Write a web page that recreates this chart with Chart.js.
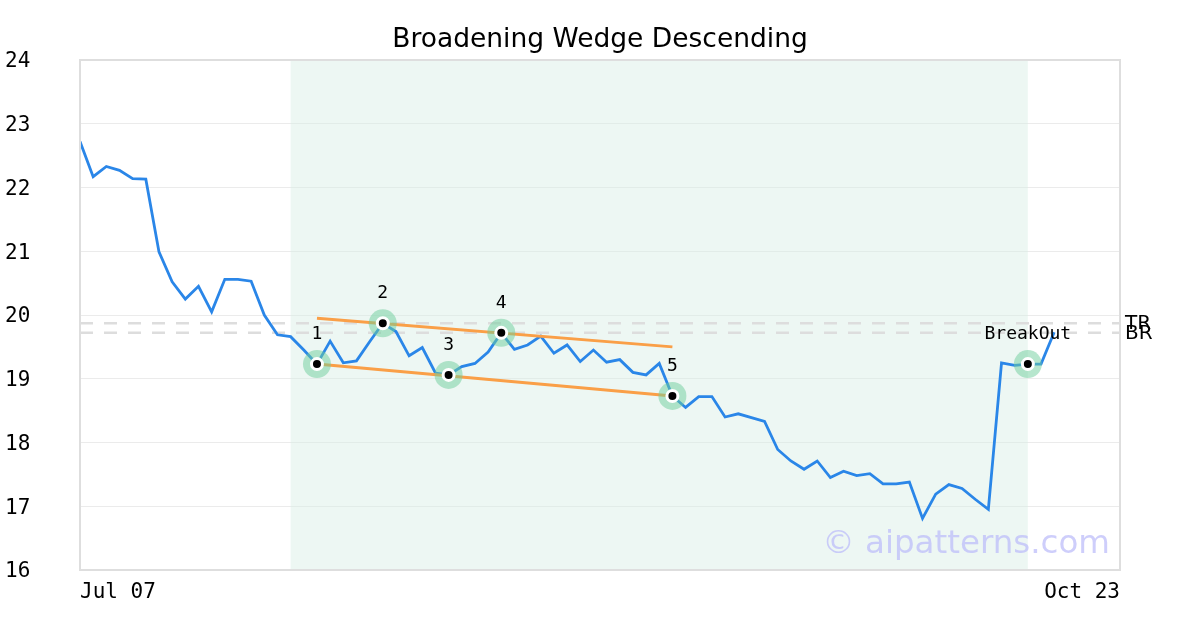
<!DOCTYPE html>
<html>
<head>
<meta charset="utf-8">
<script src="https://cdn.jsdelivr.net/npm/chart.js@4"></script>
<style>
  html, body { margin: 0; padding: 0; background: #fff; }
  #wrap { width: 1200px; height: 630px; }
</style>
</head>
<body>
<div id="wrap"><canvas id="c" width="1200" height="630"></canvas></div>
<script>
// Data
const tickLabels = ['Jul 07', 'Oct 23'];
const lastSlot = 79; // x axis runs over 80 trading-day slots
const chartTitle = 'Broadening Wedge Descending';

const closes = [
  22.72, 22.17, 22.33, 22.27, 22.14, 22.13, 20.99, 20.52, 20.25, 20.45,
  20.05, 20.56, 20.56, 20.53, 20.00, 19.69, 19.66, 19.45, 19.23, 19.59,
  19.25, 19.28, 19.58, 19.87, 19.74, 19.36, 19.49, 19.09, 19.06, 19.19,
  19.24, 19.42, 19.72, 19.46, 19.53, 19.67, 19.40, 19.53, 19.27, 19.45,
  19.26, 19.30, 19.10, 19.06, 19.24, 18.73, 18.55, 18.72, 18.72, 18.40,
  18.45, 18.39, 18.33, 17.89, 17.71, 17.58, 17.71, 17.45, 17.55, 17.48,
  17.51, 17.35, 17.35, 17.38, 16.81, 17.19, 17.34, 17.28, 17.11, 16.95,
  19.25, 19.21, 19.23, 19.23, 19.73
];

const pivotIdx = [18, 23, 28, 32, 45];
const pivotNames = ['1', '2', '3', '4', '5'];
const breakoutIdx = 72;
const breakoutName = 'BreakOut';

const upperLine = [[18, 19.95], [45, 19.50]];
const lowerLine = [[18, 19.23], [45, 18.73]];

const levelNames = ['TR', 'BR'];
const levelValues = [19.87, 19.72];

const zoneRange = [16, 72];

// Colors
const colors = {
  price: '#2a86e8',
  trend: '#fa9f47',
  halo: 'rgba(110, 205, 155, 0.5)',
  level: '#dddddd',
  zone: 'rgba(215, 238, 228, 0.45)',
  grid: '#ebebeb',
  frame: '#dedede',
  mark: 'rgba(190, 190, 250, 0.75)',
};

const mono = "'DejaVu Sans Mono', monospace";
const sans = "'DejaVu Sans', sans-serif";

const toXY = pairs => pairs.map(([x, y]) => ({ x, y }));
const markerPts = pivotIdx.concat([breakoutIdx]).map(i => ({ x: i, y: closes[i] }));
const markerNames = pivotNames.concat([breakoutName]);

// shaded zone, title, frame and labels
const decor = {
  id: 'decor',
  beforeDatasetsDraw(chart) {
    const { ctx, chartArea: a, scales: { x } } = chart;
    const x0 = x.getPixelForValue(zoneRange[0]);
    const x1 = x.getPixelForValue(zoneRange[1]);
    ctx.save();
    ctx.fillStyle = colors.zone;
    ctx.fillRect(x0, a.top, x1 - x0, a.bottom - a.top);
    ctx.restore();
  },
  afterDatasetsDraw(chart) {
    const { ctx, chartArea: a, scales: { y } } = chart;
    ctx.save();
    // title, centred on the page
    ctx.font = `26.5px ${sans}`;
    ctx.fillStyle = '#000';
    ctx.textAlign = 'center';
    ctx.textBaseline = 'middle';
    ctx.fillText(chartTitle, chart.width / 2, 40);

    // watermark
    ctx.font = `32.5px ${sans}`;
    ctx.fillStyle = colors.mark;
    ctx.textAlign = 'right';
    ctx.textBaseline = 'alphabetic';
    ctx.fillText('\u00a9 aipatterns.com', a.right - 10, a.bottom - 17);

    // point labels
    const meta = chart.getDatasetMeta(0);
    ctx.font = `18px ${mono}`;
    ctx.fillStyle = '#000';
    ctx.textAlign = 'center';
    ctx.textBaseline = 'middle';
    meta.data.forEach((el, i) => {
      ctx.fillText(markerNames[i], el.x, el.y - 30);
    });

    // level names right of the plot
    ctx.font = `20px ${sans}`;
    ctx.textAlign = 'left';
    levelNames.forEach((n, i) => {
      ctx.fillText(n, a.right + 5, y.getPixelForValue(levelValues[i]) + 1);
    });

    // frame
    ctx.strokeStyle = colors.frame;
    ctx.lineWidth = 2;
    ctx.strokeRect(a.left, a.top, a.right - a.left, a.bottom - a.top);
    ctx.restore();
  },
};

const levelSets = levelValues.map(v => ({
  data: [{ x: 0, y: v }, { x: lastSlot, y: v }],
  borderColor: colors.level,
  borderWidth: 2.5,
  borderDash: [13, 11],
  pointRadius: 0,
  order: 9,
}));

new Chart(document.getElementById('c'), {
  type: 'line',
  data: {
    datasets: [
      { // markers
        data: markerPts,
        showLine: false,
        pointRadius: 5.5,
        pointBackgroundColor: '#000',
        pointBorderColor: '#fff',
        pointBorderWidth: 3,
        order: 1,
      },
      { // halos
        data: markerPts,
        showLine: false,
        pointRadius: 14,
        pointBackgroundColor: colors.halo,
        pointBorderWidth: 0,
        order: 2,
      },
      {
        data: toXY(upperLine),
        borderColor: colors.trend,
        borderWidth: 3,
        pointRadius: 0,
        order: 3,
      },
      {
        data: toXY(lowerLine),
        borderColor: colors.trend,
        borderWidth: 3,
        pointRadius: 0,
        order: 3,
      },
      {
        data: closes.map((v, i) => ({ x: i, y: v })),
        borderColor: colors.price,
        borderWidth: 2.8,
        pointRadius: 0,
        tension: 0,
        order: 4,
      },
      ...levelSets,
    ],
  },
  options: {
    responsive: false,
    animation: false,
    layout: { padding: { left: 5, right: 80, top: 60, bottom: 21 } },
    plugins: {
      legend: { display: false },
      tooltip: { enabled: false },
      title: { display: false },
    },
    scales: {
      x: {
        type: 'linear',
        min: 0,
        max: lastSlot,
        afterBuildTicks: s => { s.ticks = [{ value: 0 }, { value: lastSlot }]; },
        afterFit: s => { s.height = 39; },
        grid: { display: false },
        border: { display: false },
        ticks: {
          align: 'inner',
          maxRotation: 0,
          padding: 2,
          color: '#000',
          font: { family: mono, size: 21 },
          callback: v => (v === 0 ? tickLabels[0] : tickLabels[1]),
        },
      },
      y: {
        min: 16,
        max: 24,
        afterFit: s => { s.width = 75; },
        grid: { color: colors.grid, lineWidth: 1, drawTicks: false },
        border: { display: false },
        ticks: {
          stepSize: 1,
          crossAlign: 'far',
          padding: 0,
          labelOffset: 2,
          color: '#000',
          font: { family: mono, size: 21 },
        },
      },
    },
  },
  plugins: [decor],
});
</script>
</body>
</html>
